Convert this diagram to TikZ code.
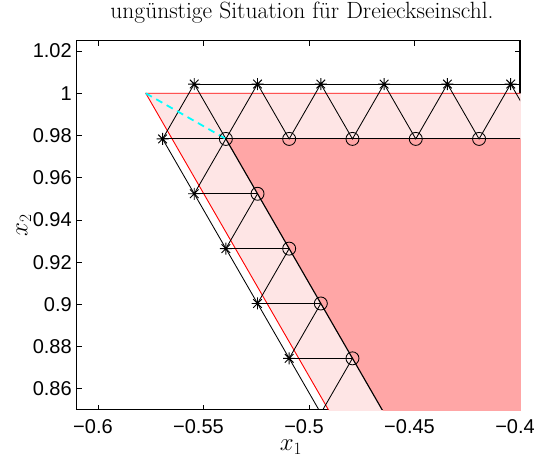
\documentclass[tikz,border=0pt]{standalone}
\usepackage{fontspec}
\newfontfamily\ticksf{Liberation Sans}
\definecolor{lightpink}{RGB}{254,229,229}
\definecolor{darkpink}{RGB}{255,166,166}
\definecolor{cyanline}{RGB}{0,255,255}
\tikzset{
  edge/.style={black,line width=0.85pt},
  bedge/.style={black,line width=1.15pt},
  redline/.style={red,line width=0.9pt},
  cyandash/.style={cyanline,line width=1.8pt,dash pattern=on 7pt off 5pt},
  circmark/.style={draw,circle,minimum size=13pt,inner sep=0pt,line width=0.85pt},
  asterisk/.pic={\draw[line width=0.95pt] (-6pt,0)--(6pt,0) (0,-6pt)--(0,6pt)
     (-4.3pt,-4.3pt)--(4.3pt,4.3pt) (-4.3pt,4.3pt)--(4.3pt,-4.3pt);},
  axisbox/.style={black,line width=1.1pt},
  tickline/.style={black,line width=0.7pt},
  xticklab/.style={anchor=north,inner sep=0pt,font=\fontsize{20}{23}\ticksf},
  yticklab/.style={anchor=east,inner sep=0pt,font=\fontsize{20}{23}\ticksf},
}
\begin{document}
\begin{tikzpicture}[x=1pt,y=1pt]
\useasboundingbox (0,0) rectangle (534,-457);
\fill[white] (0,0) rectangle (534,-457);
\node[anchor=base,inner sep=0pt] (title) at (302,-19) {\fontsize{23.5}{28}\selectfont ungünstige Situation für Dreieckseinschl.};
\node[anchor=base,inner sep=0pt] (xlab) at (291,-450.5) {\fontsize{23}{28}\selectfont $x_1$};
\node[inner sep=0pt,rotate=90] (ylab) at (24,-225) {\fontsize{23}{28}\selectfont $x_2$};
\begin{scope}[x=2110pt,y=2111pt,shift={(1364pt,-2204.3pt)}]
  % axes
  \draw[axisbox] (-0.61,0.85) rectangle (-0.4,1.025);
  \foreach \t/\l in {-0.6/−0.6,-0.55/−0.55,-0.5/−0.5,-0.45/−0.45,-0.4/−0.4} {
    \draw[tickline] (\t,0.85) -- ++(0,5pt);
    \draw[tickline] (\t,1.025) -- ++(0,-5pt);
    \node[xticklab] at ([xshift=-5pt,yshift=-9pt]\t,0.85) {\l};
  }
  \foreach \t in {0.86,0.88,0.9,0.92,0.94,0.96,0.98,1,1.02} {
    \draw[tickline] (-0.61,\t) -- ++(5pt,0);
    \draw[tickline] (-0.4,\t) -- ++(-5pt,0);
    \node[yticklab] at ([xshift=-5pt]-0.61,\t) {\t};
  }
  % grid points
  \foreach \m in {0,...,6} \coordinate (T\m) at ({-0.5544+0.03*\m},1.0043808);
  \foreach \m in {0,...,5} \coordinate (R\m) at ({-0.5394+0.03*\m},0.9784);
  \foreach \k in {0,...,5} {
    \coordinate (S\k) at ({-0.5694+0.015*\k},{0.9784-0.0259808*\k});
    \coordinate (K\k) at ({-0.5394+0.015*\k},{0.9784-0.0259808*\k});
  }
  \coordinate (V) at (-0.57735,1);
  % fills
  \begin{scope}
    \clip ([yshift=-0.9pt]-0.61,0.85) rectangle ([xshift=0.9pt]-0.4,1.025);
    \fill[lightpink] (V) -- (-0.3,1) -- (-0.3,0.8) -- (-0.46188,0.8) -- cycle;
    \fill[darkpink] (R0) -- (-0.3,0.9784) -- (-0.3,0.8) -- (-0.4364,0.8) -- cycle;
  \end{scope}
  \begin{scope}
    \clip (-0.61,0.85) rectangle (-0.4,1.025);
    \draw[redline] (-0.3,1) -- (V) -- (-0.46188,0.8);
    \draw[edge] (T0) -- (T6);
    \draw[edge] (S0) -- (R0);
    \draw[bedge] (R0) -- (R5);
    \draw[edge] (S0) -- (T0);
    \foreach \m [count=\n from 1] in {0,...,5} \draw[edge] (T\m) -- (R\m) -- (T\n);
    \draw[edge] (S0) -- (S5);
    \draw[bedge] (K0) -- (K5);
    \foreach \k in {1,...,5} \draw[edge] (S\k) -- (K\k);
    \foreach \k [count=\j from 0] in {1,...,5} \draw[edge] (K\j) -- (S\k);
    \draw[cyandash] (V) -- (R0);
    % markers
    \foreach \m in {0,...,5} \pic at (T\m) {asterisk};
    \foreach \k in {0,...,4} \pic at (S\k) {asterisk};
    \foreach \m in {0,...,4} \node[circmark] (cR\m) at (R\m) {};
    \foreach \k in {1,...,4} \node[circmark] (cK\k) at (K\k) {};
  \end{scope}
\end{scope}
\end{tikzpicture}
\end{document}
